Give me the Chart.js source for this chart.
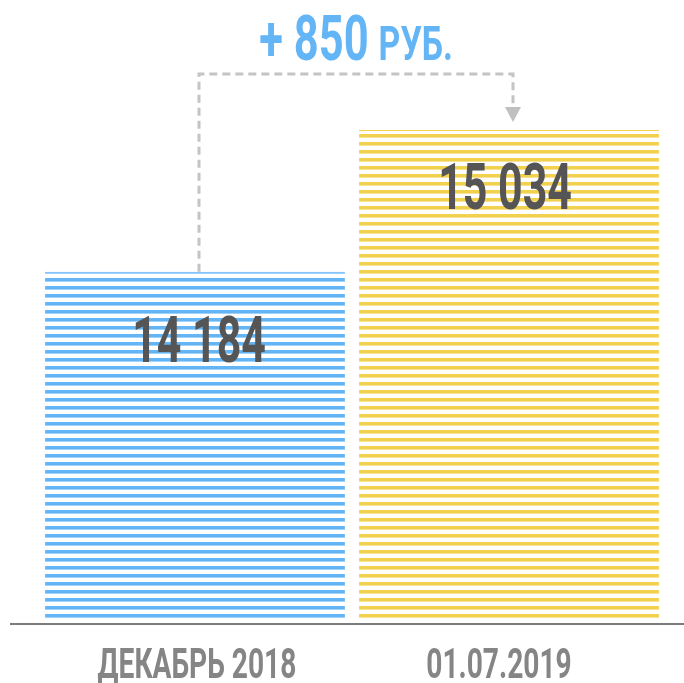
<!DOCTYPE html>
<html lang="ru">
<head>
    <meta charset="UTF-8">
    <title>Зарплата</title>
    <style>
        body {
            margin: 0;
            padding: 0;
            background: #fff;
        }

        #chartBox {
            width: 684px;
            height: 683px;
            position: relative;
        }
    </style>
</head>
<body>
    <div id="chartBox">
        <canvas id="salaryChart"></canvas>
    </div>

    <script src="https://cdn.jsdelivr.net/npm/chart.js"></script>
    <script>
        // Data
        const categories = ['ДЕКАБРЬ 2018', '01.07.2019'];
        const salaryValues = [14184, 15034];
        const currencyLabel = 'РУБ.';
        const barColors = ['#64B5F6', '#F2D14F'];

        // 14184 -> "14 184"
        function formatNumber(n) {
            return n.toString().replace(/\B(?=(\d{3})+(?!\d))/g, ' ');
        }

        // Horizontal stripes, 8px period
        function stripes(color) {
            const c = document.createElement('canvas');
            c.width = 4;
            c.height = 8;
            const g = c.getContext('2d');
            g.fillStyle = color;
            g.fillRect(0, 6, 4, 2);
            g.fillRect(0, 0, 4, 1.6);
            return g.createPattern(c, 'repeat');
        }

        // Text squeezed horizontally to look like a condensed face
        function narrowText(ctx, text, x, y, font, color, sx, align) {
            ctx.save();
            ctx.font = font;
            ctx.fillStyle = color;
            ctx.textAlign = align || 'center';
            ctx.textBaseline = 'alphabetic';
            ctx.translate(x, y);
            ctx.scale(sx, 1);
            ctx.fillText(text, 0, 0);
            ctx.restore();
        }

        const decorPlugin = {
            id: 'decor',
            afterDatasetsDraw(chart) {
                const ctx = chart.ctx;
                const bars = chart.getDatasetMeta(0).data;
                const valueOffsets = [90, 79];
                const valueShift = [4, -4];
                const labelShift = [2, -10];

                // values inside bars
                bars.forEach((bar, i) => {
                    narrowText(ctx, formatNumber(salaryValues[i]), bar.x + valueShift[i], bar.y + valueOffsets[i],
                        'bold 65px Roboto', '#555555', 0.66);
                });

                // baseline
                ctx.save();
                ctx.strokeStyle = '#7c7c7c';
                ctx.lineWidth = 2;
                ctx.beginPath();
                ctx.moveTo(10, chart.chartArea.bottom + 5);
                ctx.lineTo(chart.width, chart.chartArea.bottom + 5);
                ctx.stroke();
                ctx.restore();

                // category labels
                bars.forEach((bar, i) => {
                    narrowText(ctx, categories[i], bar.x + labelShift[i], 678,
                        'bold 42px Roboto', '#858585', 0.67);
                });

                // dashed bracket with arrow
                const x1 = bars[0].x + 4;
                const x2 = bars[1].x + 4;
                const topY = 74;
                const tipY = bars[1].y - 8;
                ctx.save();
                ctx.strokeStyle = '#c4c4c4';
                ctx.fillStyle = '#c0c0c0';
                ctx.lineWidth = 3;
                ctx.setLineDash([8, 5]);
                ctx.beginPath();
                ctx.moveTo(x1, bars[0].y);
                ctx.lineTo(x1, topY);
                ctx.lineTo(x2, topY);
                ctx.lineTo(x2, tipY - 17);
                ctx.stroke();
                ctx.setLineDash([]);
                ctx.beginPath();
                ctx.moveTo(x2 - 8, tipY - 15);
                ctx.lineTo(x2 + 8, tipY - 15);
                ctx.lineTo(x2, tipY);
                ctx.closePath();
                ctx.fill();
                ctx.restore();

                // difference label
                const diff = '+ ' + formatNumber(salaryValues[1] - salaryValues[0]);
                const sx = 0.69;
                ctx.save();
                ctx.font = 'bold 63px Roboto';
                const w1 = ctx.measureText(diff).width * sx;
                ctx.font = 'bold 49px Roboto';
                const w2 = ctx.measureText(currencyLabel).width * sx;
                ctx.restore();
                const gap = 10;
                const startX = (bars[0].x + bars[1].x) / 2 + 4 - (w1 + gap + w2) / 2;
                narrowText(ctx, diff, startX, 60, 'bold 63px Roboto', barColors[0], sx, 'left');
                narrowText(ctx, currencyLabel, startX + w1 + gap, 60, 'bold 49px Roboto', barColors[0], sx, 'left');
            }
        };

        new Chart(document.getElementById('salaryChart'), {
            type: 'bar',
            data: {
                labels: categories,
                datasets: [{
                    data: salaryValues,
                    backgroundColor: barColors.map(stripes),
                    borderColor: barColors,
                    borderWidth: { top: 1, left: 0, right: 0, bottom: 0 },
                    borderSkipped: 'bottom',
                    categoryPercentage: 1,
                    barPercentage: 0.955
                }]
            },
            options: {
                responsive: true,
                maintainAspectRatio: false,
                animation: false,
                layout: {
                    padding: { left: 38, right: 18, top: 19, bottom: 64 }
                },
                scales: {
                    x: { display: false },
                    y: { display: false, min: 12100, max: 15700 }
                },
                plugins: {
                    legend: { display: false },
                    tooltip: { enabled: false }
                }
            },
            plugins: [decorPlugin]
        });
    </script>
</body>
</html>
